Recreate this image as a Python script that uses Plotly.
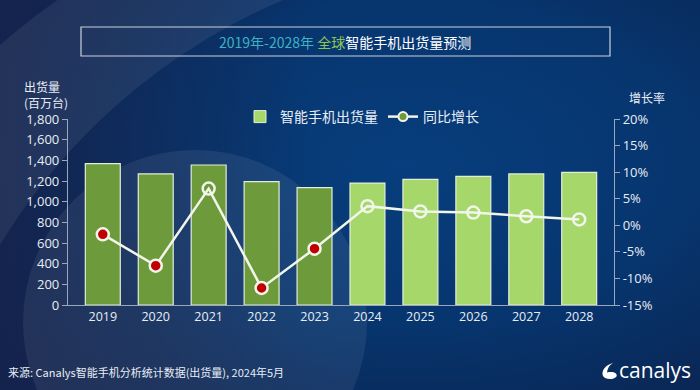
import base64
import plotly.graph_objects as go

# ---- data ----
years = ["2019", "2020", "2021", "2022", "2023", "2024", "2025", "2026", "2027", "2028"]
shipments = [1369, 1268, 1355, 1193, 1135, 1180, 1216, 1245, 1268, 1284]   # 百万台
growth = [-1.7, -7.6, 6.9, -11.8, -4.4, 3.6, 2.6, 2.4, 1.7, 1.1]            # %
last_actual_year = 2023
left_ticks = list(range(0, 1801, 200))
right_ticks = [-15, -10, -5, 0, 5, 10, 15, 20]
right_tick_text = [f"{v}%" for v in right_ticks]

# ---- geometry helpers (pixel -> paper) ----
W, H = 700, 390
L, R, T, B = 68, 614, 119, 305
def px(x):
    return (x - L) / (R - L)
def py(y):
    return (B - y) / (B - T)

DARK_G = "#6d9a3b"
LIGHT_G = "#a6d76b"
TXT = "#e8edf5"
AX = "#9aa8bd"
NUMFONT = "Open Sans"
CJK = "Noto Sans CJK SC"

# ---- background artwork (no text) ----
svg = f"""<svg xmlns='http://www.w3.org/2000/svg' width='{W}' height='{H}' viewBox='0 0 {W} {H}'>
<defs>
<radialGradient id='g' cx='0.58' cy='0.42' r='0.75'>
<stop offset='0' stop-color='#073e7d'/>
<stop offset='0.55' stop-color='#07356e'/>
<stop offset='1' stop-color='#0a2552'/>
</radialGradient>
<linearGradient id='lg' x1='0' y1='0' x2='1' y2='0'>
<stop offset='0' stop-color='#15234c' stop-opacity='0.9'/>
<stop offset='0.45' stop-color='#15234c' stop-opacity='0'/>
</linearGradient>
</defs>
<rect width='{W}' height='{H}' fill='url(#g)'/>
<rect width='{W}' height='{H}' fill='url(#lg)'/>
<path fill='#ffffff' fill-opacity='0.07' fill-rule='evenodd'
 d='M -214,520 a 634,634 0 1,0 1268,0 a 634,634 0 1,0 -1268,0 Z M -88,560 a 608,608 0 1,0 1216,0 a 608,608 0 1,0 -1216,0 Z'/>
<circle cx='195' cy='322' r='172' fill='#ffffff' fill-opacity='0.07'/>
<path fill='#ffffff' d='M 613 363 C 605 365, 601 371, 603 376 C 605 380, 614 380, 616.5 376.5 C 618 373, 613 371, 607 372.5 C 607.5 368, 609.5 365, 613 363 Z'/>
</svg>"""
bg_src = "data:image/svg+xml;base64," + base64.b64encode(svg.encode("utf-8")).decode("ascii")

bar_colors = [DARK_G if int(y) <= last_actual_year else LIGHT_G for y in years]
marker_fill = ["#c00000" if g < 0 else "rgba(0,0,0,0)" for g in growth]

fig = go.Figure()
fig.add_trace(go.Bar(
    x=years, y=shipments, name="智能手机出货量",
    marker=dict(color=bar_colors, line=dict(color="#e4eddb", width=1.2)),
    yaxis="y", showlegend=False,
))
fig.add_trace(go.Scatter(
    x=years, y=growth, name="同比增长", mode="lines+markers",
    line=dict(color="#f2f5ea", width=2.5),
    marker=dict(color=marker_fill, size=12, line=dict(color="#f2f5ea", width=2.5)),
    yaxis="y2", showlegend=False,
))
# legend-only entries
fig.add_trace(go.Bar(
    x=[None], y=[None], name="智能手机出货量",
    marker=dict(color=LIGHT_G, line=dict(color="#e4eddb", width=1)),
    yaxis="y", showlegend=True, legendrank=1,
))
fig.add_trace(go.Scatter(
    x=[None], y=[None], name="同比增长", mode="lines+markers",
    line=dict(color="#f2f5ea", width=2.5),
    marker=dict(color=DARK_G, size=9, line=dict(color="#f2f5ea", width=2)),
    yaxis="y2", showlegend=True, legendrank=2,
))

fig.update_layout(
    width=W, height=H,
    margin=dict(l=L, r=W - R, t=T, b=H - B, pad=0),
    paper_bgcolor="#08306a", plot_bgcolor="rgba(0,0,0,0)",
    bargap=0.34, barmode="overlay",
    font=dict(family=NUMFONT, color=TXT, size=13),
    xaxis=dict(
        type="category", categoryorder="array", categoryarray=years,
        showline=True, linecolor=AX, linewidth=1.2,
        ticks="", tickfont=dict(size=12.5, color=TXT, family=NUMFONT),
        showgrid=False, zeroline=False, fixedrange=True,
    ),
    yaxis=dict(
        range=[0, 1800], tickmode="array", tickvals=left_ticks, tickformat=",",
        showline=True, linecolor=AX, linewidth=1.2, ticks="outside",
        ticklen=5, tickcolor=AX, tickwidth=1.2, showgrid=False, zeroline=False,
        tickfont=dict(size=13, color=TXT, family=NUMFONT),
    ),
    yaxis2=dict(
        range=[-15, 20], tickmode="array", tickvals=right_ticks, ticktext=right_tick_text,
        overlaying="y", side="right", showline=True, linecolor=AX, linewidth=1.2,
        ticks="outside", ticklen=5, tickcolor=AX, tickwidth=1.2, showgrid=False,
        zeroline=False, tickfont=dict(size=13, color=TXT, family=NUMFONT),
    ),
    legend=dict(
        orientation="h", x=px(362), xanchor="center", y=py(117), yanchor="middle",
        font=dict(family=CJK, size=14, color=TXT), bgcolor="rgba(0,0,0,0)",
        itemwidth=30, traceorder="normal", tracegroupgap=0,
    ),
    images=[dict(
        source=bg_src, xref="paper", yref="paper",
        x=px(0), y=py(0), sizex=W / (R - L), sizey=H / (B - T),
        xanchor="left", yanchor="top", sizing="stretch", layer="below",
    )],
    shapes=[dict(
        type="rect", xref="paper", yref="paper",
        x0=px(81), x1=px(610), y0=py(56), y1=py(27),
        line=dict(color="#c9d2dc", width=1.2), fillcolor="rgba(0,0,0,0)",
    )],
)

annos = [
    dict(text="<span style='color:#3fb1c4'>2019年-2028年 </span><span style='color:#8dc452'>全球</span>智能手机出货量预测",
         x=px(345), y=py(42), xanchor="center", yanchor="middle",
         font=dict(family=CJK, size=14, color="#ffffff")),
    dict(text="出货量<br>(百万台)", x=px(22), y=py(76), xanchor="left", yanchor="top",
         align="left", font=dict(family=CJK, size=12, color=TXT)),
    dict(text="增长率", x=px(627), y=py(97), xanchor="left", yanchor="middle",
         font=dict(family=CJK, size=12, color=TXT)),
    dict(text="来源: Canalys智能手机分析统计数据(出货量), 2024年5月", x=px(6), y=py(372),
         xanchor="left", yanchor="middle", font=dict(family=CJK, size=11, color=TXT)),
    dict(text="canalys", x=px(617), y=py(370), xanchor="left", yanchor="middle",
         font=dict(family=NUMFONT, size=21, color="#ffffff")),
]
for a in annos:
    a.update(xref="paper", yref="paper", showarrow=False)
fig.update_layout(annotations=annos)

fig.write_html(
    "out.html",
    config={"displayModeBar": False},
    post_script="document.body.style.margin='0';document.body.style.overflow='hidden';",
)
